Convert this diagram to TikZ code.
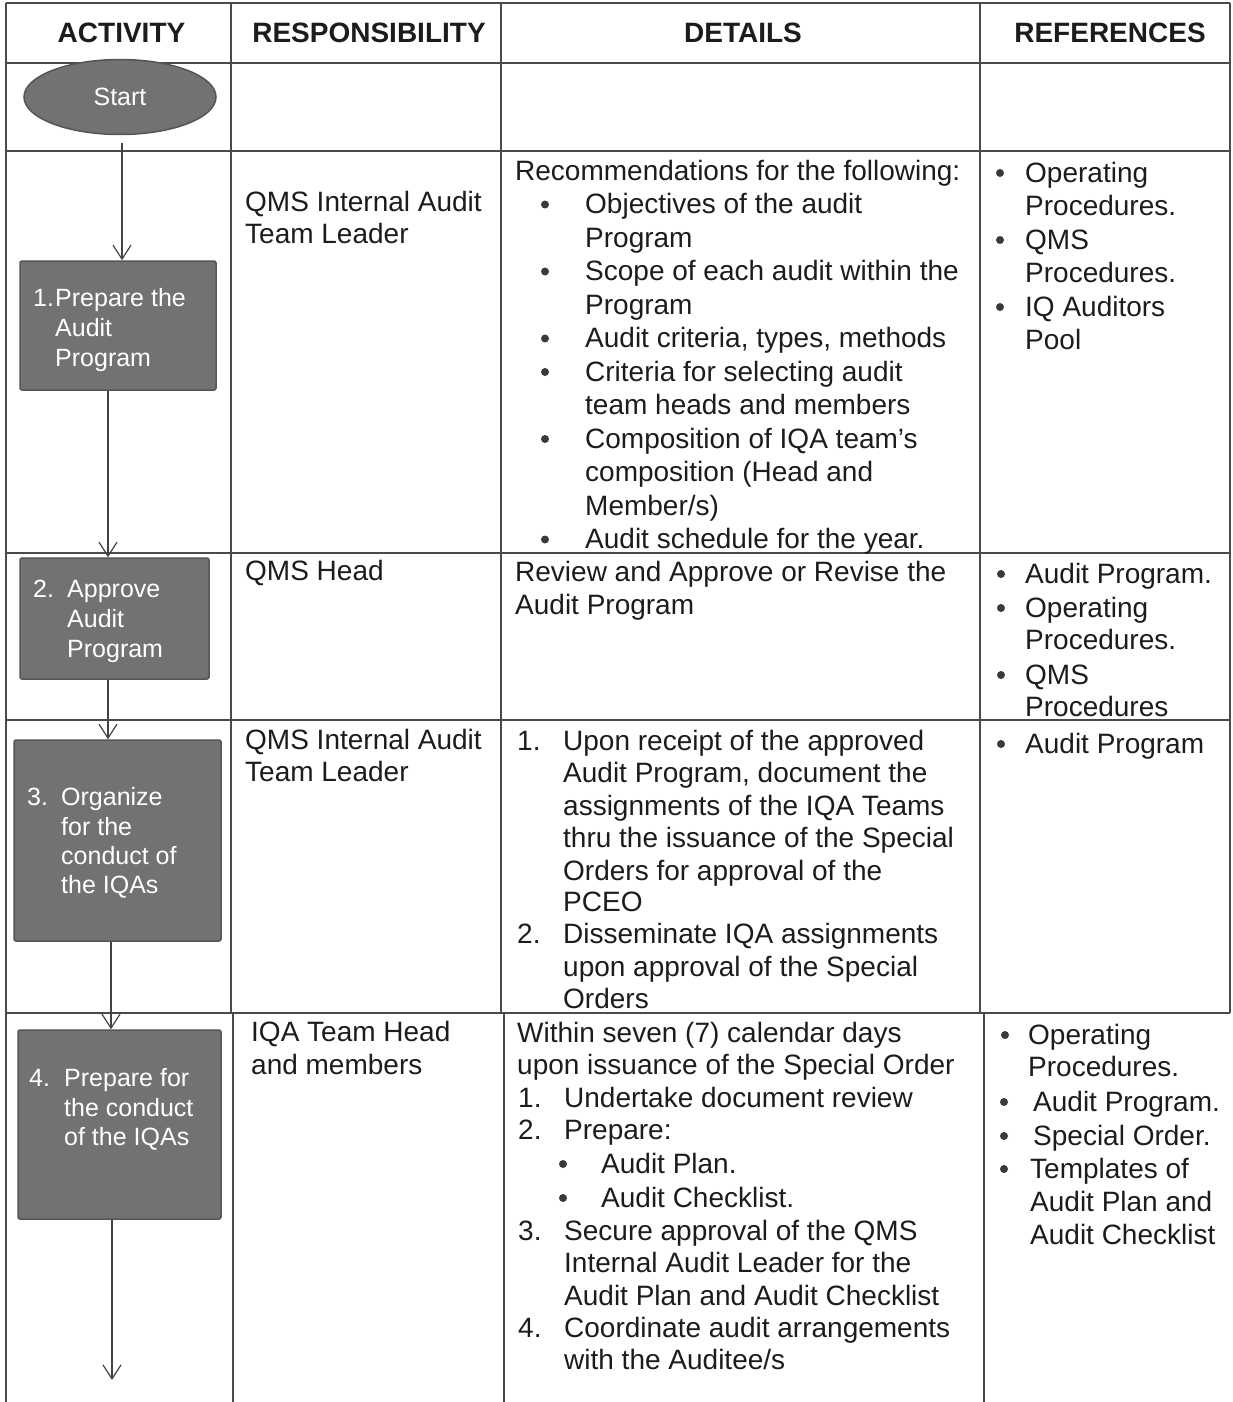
\documentclass[tikz,border=0pt]{standalone}
\usepackage{fontspec}
\setmainfont{Liberation Sans}
\usetikzlibrary{shapes.geometric,arrows.meta}
\definecolor{gridc}{HTML}{4A4A4A}
\definecolor{txtc}{HTML}{1C1C1C}
\definecolor{boxf}{HTML}{727272}
\definecolor{boxb}{HTML}{555555}
\definecolor{arrc}{HTML}{444444}
\definecolor{bltc}{HTML}{3A3A3A}
\newcommand\tl[4]{\node[txt] (#1) at (#2,#3) {#4};}
\newcommand\wl[4]{\node[btxt] (#1) at (#2,#3) {#4};}
\newcommand\bp[3]{\node[blt] (#1) at (#2,#3-9) {};}
\begin{document}
\begin{tikzpicture}[x=1pt,y=-1pt,
 grid/.style={draw=gridc, line width=1.2pt},
 txt/.style={anchor=base west, inner sep=0pt, text=txtc, font=\fontsize{28}{33}\selectfont},
 hdr/.style={anchor=base, inner sep=0pt, text=txtc, font=\bfseries\fontsize{28}{33}\selectfont},
 btxt/.style={anchor=base west, inner sep=0pt, text=white, font=\fontsize{25}{30}\selectfont},
 blt/.style={circle, fill=bltc, inner sep=0pt, minimum size=8pt},
 actbox/.style={draw=boxb, fill=boxf, line width=1.5pt, rounded corners=2pt, inner sep=0pt},
 arr/.style={draw=arrc, line width=1.2pt, -{Straight Barb[length=14pt,width=18pt]}},
]
\useasboundingbox (0,0) rectangle (1232,1402);
% grid
\draw[grid] (6,3) -- (1230,3);
\draw[grid] (6,63) -- (1230,63);
\draw[grid] (6,151) -- (1230,151);
\draw[grid] (6,553) -- (1230,553);
\draw[grid] (6,720) -- (1230,720);
\draw[grid] (6,1013) -- (1230,1013);
\draw[grid] (6,3) -- (6,1402);
\draw[grid] (231,3) -- (231,1013) -- (233,1013) -- (233,1402);
\draw[grid] (501,3) -- (501,1013) -- (504,1013) -- (504,1402);
\draw[grid] (980,3) -- (980,1013) -- (984,1013) -- (984,1402);
\draw[grid] (1230,3) -- (1230,1013);
% headers
\node[hdr] (h1) at (121.5,43) {ACTIVITY};
\node[hdr] (h2) at (369,43) {RESPONSIBILITY};
\node[hdr] (h3) at (743,43) {DETAILS};
\node[hdr] (h4) at (1110,43) {REFERENCES};
% activity shapes
\node[ellipse, draw=boxb, fill=boxf, line width=1.5pt, minimum width=192pt, minimum height=75pt, inner sep=0pt,
      text=white, font=\fontsize{25}{30}\selectfont] (s) at (120,97) {Start};
\node[actbox, minimum width=196pt, minimum height=129pt] (b1) at (118,325.5) {};
\node[actbox, minimum width=189pt, minimum height=121pt] (b2) at (114.5,618.5) {};
\node[actbox, minimum width=207pt, minimum height=201pt] (b3) at (117.5,840.5) {};
\node[actbox, minimum width=203pt, minimum height=189pt] (b4) at (119.5,1124.5) {};
\wl{b1n}{33}{306}{1.}
\wl{b1a}{55}{306}{Prepare the}
\wl{b1b}{55}{336}{Audit}
\wl{b1c}{55}{366}{Program}
\wl{b2n}{33}{597}{2.}
\wl{b2a}{67}{597}{Approve}
\wl{b2b}{67}{627}{Audit}
\wl{b2c}{67}{657}{Program}
\wl{b3n}{27}{805}{3.}
\wl{b3a}{61}{805}{Organize}
\wl{b3b}{61}{835}{for the}
\wl{b3c}{61}{864}{conduct of}
\wl{b3d}{61}{893}{the IQAs}
\wl{b4n}{29}{1086}{4.}
\wl{b4a}{64}{1086}{Prepare for}
\wl{b4b}{64}{1116}{the conduct}
\wl{b4c}{64}{1145}{of the IQAs}
% connectors
\coordinate (ax1) at (122,0);
\coordinate (ax2) at (108,0);
\coordinate (ax4) at (111,0);
\coordinate (ax5) at (112,0);
\coordinate (endpt) at (112,1380);
\draw[arr] ([yshift=-8pt]s.south -| ax1) -- (b1.north -| ax1);
\draw[arr] (b1.south -| ax2) -- (b2.north -| ax2);
\draw[arr] (b2.south -| ax2) -- (b3.north -| ax2);
\draw[arr] (b3.south -| ax4) -- (b4.north -| ax4);
\draw[arr] (b4.south -| ax5) -- (endpt);
% row 1 (prepare)
\tl{r1a}{245}{211}{QMS Internal Audit}
\tl{r1b}{245}{243}{Team Leader}
\tl{d1a}{515}{180}{Recommendations for the following:}
\bp{d1p1}{545}{213.5}
\tl{d1b}{585}{213.5}{Objectives of the audit}
\tl{d1c}{585}{247}{Program}
\bp{d1p2}{545}{280.5}
\tl{d1d}{585}{280.5}{Scope of each audit within the}
\tl{d1e}{585}{314}{Program}
\bp{d1p3}{545}{347.5}
\tl{d1f}{585}{347.5}{Audit criteria, types, methods}
\bp{d1p4}{545}{381}
\tl{d1g}{585}{381}{Criteria for selecting audit}
\tl{d1h}{585}{414.5}{team heads and members}
\bp{d1p5}{545}{448}
\tl{d1i}{585}{448}{Composition of IQA team’s}
\tl{d1j}{585}{481.5}{composition (Head and}
\tl{d1k}{585}{515}{Member/s)}
\bp{d1p6}{545}{548.5}
\tl{d1l}{585}{548.5}{Audit schedule for the year.}
\bp{f1p1}{1000}{182}
\tl{f1a}{1025}{182}{Operating}
\tl{f1b}{1025}{215}{Procedures.}
\bp{f1p2}{1000}{249}
\tl{f1c}{1025}{249}{QMS}
\tl{f1d}{1025}{282}{Procedures.}
\bp{f1p3}{1000}{316}
\tl{f1e}{1025}{316}{IQ Auditors}
\tl{f1f}{1025}{349}{Pool}
% row 2 (approve)
\tl{r2a}{245}{580}{QMS Head}
\tl{d2a}{515}{581}{Review and Approve or Revise the}
\tl{d2b}{515}{614}{Audit Program}
\bp{f2p1}{1001}{583}
\tl{f2a}{1025}{583}{Audit Program.}
\bp{f2p2}{1001}{617}
\tl{f2b}{1025}{617}{Operating}
\tl{f2c}{1025}{649}{Procedures.}
\bp{f2p3}{1001}{684}
\tl{f2d}{1025}{684}{QMS}
\tl{f2e}{1025}{716}{Procedures}
% row 3 (organize)
\tl{r3a}{245}{749}{QMS Internal Audit}
\tl{r3b}{245}{781}{Team Leader}
\tl{d3n1}{517}{750}{1.}
\tl{d3a}{563}{750}{Upon receipt of the approved}
\tl{d3b}{563}{782}{Audit Program, document the}
\tl{d3c}{563}{815}{assignments of the IQA Teams}
\tl{d3d}{563}{847}{thru the issuance of the Special}
\tl{d3e}{563}{880}{Orders for approval of the}
\tl{d3f}{563}{911}{PCEO}
\tl{d3n2}{517}{943}{2.}
\tl{d3g}{563}{943}{Disseminate IQA assignments}
\tl{d3h}{563}{976}{upon approval of the Special}
\tl{d3i}{563}{1008}{Orders}
\bp{f3p1}{1001}{753}
\tl{f3a}{1025}{753}{Audit Program}
% row 4 (prepare for conduct)
\tl{r4a}{251}{1041}{IQA Team Head}
\tl{r4b}{251}{1074}{and members}
\tl{d4a}{517}{1042}{Within seven (7) calendar days}
\tl{d4b}{517}{1074}{upon issuance of the Special Order}
\tl{d4n1}{518}{1107}{1.}
\tl{d4c}{564}{1107}{Undertake document review}
\tl{d4n2}{518}{1139}{2.}
\tl{d4d}{564}{1139}{Prepare:}
\bp{d4p1}{563}{1173}
\tl{d4e}{601}{1173}{Audit Plan.}
\bp{d4p2}{563}{1207}
\tl{d4f}{601}{1207}{Audit Checklist.}
\tl{d4n3}{518}{1240}{3.}
\tl{d4g}{564}{1240}{Secure approval of the QMS}
\tl{d4h}{564}{1272}{Internal Audit Leader for the}
\tl{d4i}{564}{1305}{Audit Plan and Audit Checklist}
\tl{d4n4}{518}{1337}{4.}
\tl{d4j}{564}{1337}{Coordinate audit arrangements}
\tl{d4k}{564}{1369}{with the Auditee/s}
\bp{f4p1}{1005}{1044}
\tl{f4a}{1028}{1044}{Operating}
\tl{f4b}{1028}{1076}{Procedures.}
\bp{f4p2}{1004}{1111}
\tl{f4c}{1033}{1111}{Audit Program.}
\bp{f4p3}{1004}{1145}
\tl{f4d}{1033}{1145}{Special Order.}
\bp{f4p4}{1004}{1178}
\tl{f4e}{1030}{1178}{Templates of}
\tl{f4f}{1030}{1211}{Audit Plan and}
\tl{f4g}{1030}{1244}{Audit Checklist}
\end{tikzpicture}
\end{document}
